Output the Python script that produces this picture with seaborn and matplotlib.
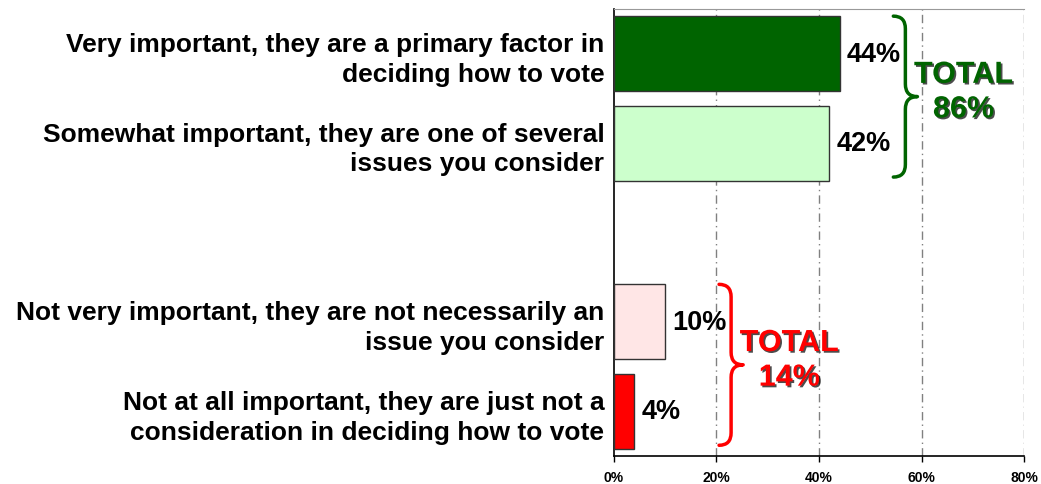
import matplotlib
matplotlib.use("Agg")
import matplotlib.pyplot as plt
import matplotlib.patheffects as pe
from matplotlib.path import Path
from matplotlib.patches import PathPatch
import seaborn as sns
import pandas as pd

# chart data
labels = [
    "Very important, they are a primary factor in\ndeciding how to vote",
    "Somewhat important, they are one of several\nissues you consider",
    "Not very important, they are not necessarily an\nissue you consider",
    "Not at all important, they are just not a\nconsideration in deciding how to vote",
]
values = [44, 42, 10, 4]
bar_colors = ["#006400", "#CCFFCC", "#FFE6E6", "#FF0000"]
groups = [[0, 1], [2, 3]]
group_totals = [86, 14]
group_colors = ["#006400", "#FF0000"]
xticks = [0, 20, 40, 60, 80]

gap = " "
order = labels[:2] + [gap] + labels[2:]
df = pd.DataFrame({"label": labels, "value": values})

sns.set_theme(style="white")
plt.rcParams["font.family"] = ["Liberation Sans", "DejaVu Sans"]
plt.rcParams["text.color"] = "black"
plt.rcParams["xtick.color"] = "black"
plt.rcParams["ytick.color"] = "black"

fig = plt.figure(figsize=(10.41, 4.85), dpi=100)
ax = fig.add_axes([0.5898, 0.0577, 0.9837 - 0.5898, 0.9794 - 0.0577])

sns.barplot(data=df, x="value", y="label", hue="label", order=order,
            hue_order=labels, palette=dict(zip(labels, bar_colors)),
            saturation=1, width=0.84, edgecolor="#333333", linewidth=1,
            legend=False, ax=ax, zorder=3)

for cont in ax.containers:
    ax.bar_label(cont, fmt="{:.0f}%", padding=5, fontsize=19.5,
                 fontweight="bold", color="black")

ax.set_xlim(0, 80)
ax.set_ylim(4.5, -0.5)
ax.set_xticks(xticks)
ax.set_xticklabels([f"{t}%" for t in xticks], fontsize=10, fontweight="bold")
ax.set_xlabel("")
ax.set_ylabel("")
ax.tick_params(axis="y", labelsize=19, length=0, pad=7)
for t in ax.get_yticklabels():
    t.set_fontweight("bold")
    t.set_linespacing(1.3)
ax.tick_params(axis="x", length=4, width=1, color="black", bottom=True, pad=6)

for t in xticks[1:]:
    ax.axvline(t, color="#808080", lw=1, linestyle=(0, (6, 3, 1, 3)), zorder=1)

ax.spines["left"].set_color("black")
ax.spines["left"].set_linewidth(1.2)
ax.spines["bottom"].set_color("black")
ax.spines["bottom"].set_linewidth(1.2)
ax.spines["top"].set_color("#999999")
ax.spines["top"].set_linewidth(0.8)
ax.spines["right"].set_visible(False)


def brace(ax, x0, w, ya, yb, color):
    xs = x0 + w / 2
    xt = x0 + w
    ym = (ya + yb) / 2
    r = 0.14
    verts = [(x0, ya), (xs, ya), (xs, ya + r),
             (xs, ym - r), (xs, ym), (xt, ym),
             (xs, ym), (xs, ym + r),
             (xs, yb - r), (xs, yb), (x0, yb)]
    codes = [Path.MOVETO, Path.CURVE3, Path.CURVE3,
             Path.LINETO, Path.CURVE3, Path.CURVE3,
             Path.CURVE3, Path.CURVE3,
             Path.LINETO, Path.CURVE3, Path.CURVE3]
    ax.add_patch(PathPatch(Path(verts, codes), fill=False, edgecolor=color,
                           lw=2.5, capstyle="round", joinstyle="round",
                           zorder=4, clip_on=False))
    return xt, ym


shadow = [pe.SimplePatchShadow(offset=(1.2, -1.2), shadow_rgbFace="black", alpha=0.7),
          pe.Normal()]

for idx, total, col in zip(groups, group_totals, group_colors):
    pos = [order.index(labels[i]) for i in idx]
    x0 = max(values[i] for i in idx) + 10.5
    xt, ym = brace(ax, x0, 4.7, pos[0] - 0.42, pos[-1] + 0.38, col)
    ax.text(xt + 9, ym - 0.05, f"TOTAL\n{total}%", ha="center", va="center",
            fontsize=22, fontweight="bold", color=col, linespacing=1.2,
            path_effects=shadow, zorder=5)

fig.savefig("out.png", dpi=100)
